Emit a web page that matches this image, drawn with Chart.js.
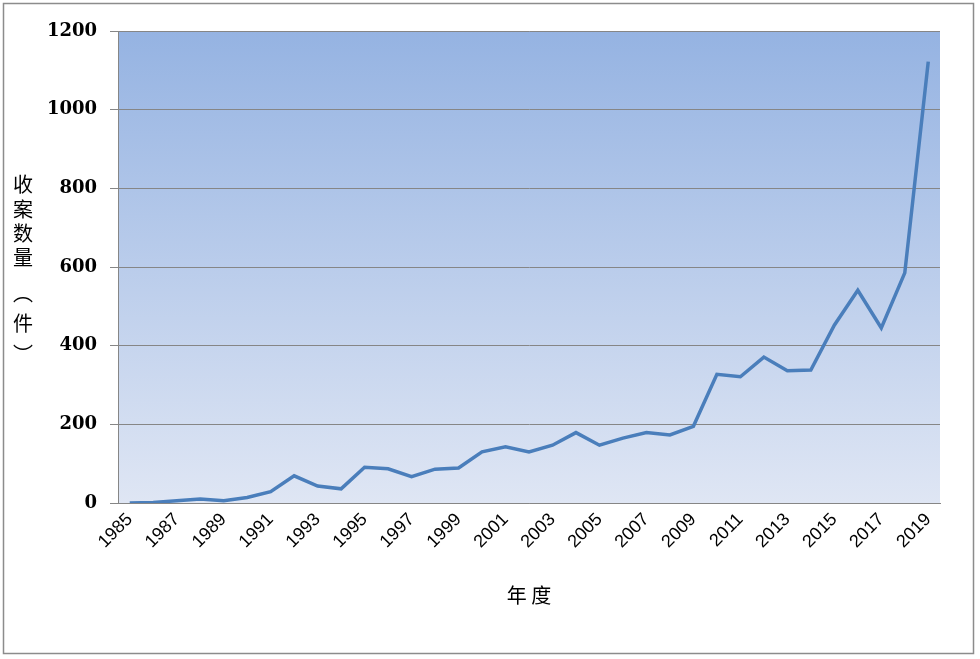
<!DOCTYPE html>
<html>
<head>
<meta charset="utf-8">
<title>收案数量</title>
<script src="https://cdn.jsdelivr.net/npm/chart.js@4/dist/chart.umd.min.js"></script>
<style>
  html, body { margin: 0; padding: 0; background: #fff; }
  #wrap { position: relative; width: 980px; height: 659px; }
</style>
</head>
<body>
<div id="wrap"><canvas id="cases" width="980" height="659"></canvas></div>
<script>
'use strict';

var years = ["1985", "1986", "1987", "1988", "1989", "1990", "1991", "1992", "1993", "1994",
             "1995", "1996", "1997", "1998", "1999", "2000", "2001", "2002", "2003", "2004",
             "2005", "2006", "2007", "2008", "2009", "2010", "2011", "2012", "2013", "2014",
             "2015", "2016", "2017", "2018", "2019"];
var caseCounts = [0, 1, 6, 10, 6, 14, 29, 69, 43, 36,
                  91, 87, 67, 86, 89, 130, 143, 130, 147, 179,
                  147, 165, 179, 173, 195, 327, 321, 371, 336, 338,
                  452, 541, 445, 585, 1122];
var yTicks = [0, 200, 400, 600, 800, 1000, 1200];
var yTitleChars = ["收", "案", "数", "量", "︵", "件", "︶"];
var xTitle = "年 度";

var ctxCases = document.getElementById('cases').getContext('2d');

// gradient fill behind the plot, frame and stacked y title
var decorations = {
    id: 'decorations',
    beforeDraw: function(chart) {
        var ctx = chart.ctx;
        var a = chart.chartArea;
        ctx.save();
        ctx.fillStyle = '#ffffff';
        ctx.fillRect(0, 0, chart.width, chart.height);
        var grad = ctx.createLinearGradient(0, a.top, 0, a.bottom);
        grad.addColorStop(0, '#95b3e2');
        grad.addColorStop(1, '#dfe6f4');
        ctx.fillStyle = grad;
        ctx.fillRect(a.left, a.top, a.right - a.left, a.bottom - a.top);
        ctx.restore();
    },
    afterDraw: function(chart) {
        var ctx = chart.ctx;
        ctx.save();
        ctx.strokeStyle = '#8c8c8c';
        ctx.lineWidth = 1.5;
        ctx.strokeRect(3.5, 3.5, 970, 650);

        // stacked vertical title, ink of each character centred on its row
        ctx.fillStyle = '#000';
        ctx.textAlign = 'center';
        ctx.textBaseline = 'alphabetic';
        ctx.font = '20px "Noto Sans CJK SC"';
        var rowY = [184, 208.5, 233, 257, 300, 323, 347];
        yTitleChars.forEach(function(ch, i) {
            var m = ctx.measureText(ch);
            var shift = (m.actualBoundingBoxDescent - m.actualBoundingBoxAscent) / 2;
            ctx.fillText(ch, 23, rowY[i] - shift);
        });
        ctx.restore();
    }
};

var casesChart = new Chart(ctxCases, {
    type: 'line',
    data: {
        labels: years,
        datasets: [
            {
                label: '收案数量',
                data: caseCounts,
                borderColor: '#4a7ebb',
                backgroundColor: '#4a7ebb',
                borderWidth: 3.5,
                pointRadius: 0,
                tension: 0,
                fill: false
            }
        ]
    },
    options: {
        responsive: false,
        animation: false,
        layout: { padding: { left: 0, top: 31, right: 40, bottom: 0 } },
        plugins: {
            legend: { display: false },
            tooltip: { enabled: false }
        },
        scales: {
            x: {
                offset: true,
                grid: { display: false, drawTicks: false },
                border: { display: true, color: '#868686' },
                ticks: {
                    autoSkip: false,
                    minRotation: 45,
                    maxRotation: 45,
                    padding: 6,
                    color: '#000',
                    font: { family: 'Liberation Sans', size: 18 },
                    callback: function(value, index) {
                        return index % 2 === 0 ? years[index] : '';
                    }
                },
                title: {
                    display: true,
                    text: xTitle,
                    color: '#000',
                    font: { family: 'Noto Sans CJK SC', size: 20 },
                    padding: { top: 4, bottom: 52 }
                },
                afterFit: function(scale) { scale.height = 156; }
            },
            y: {
                min: yTicks[0],
                max: yTicks[yTicks.length - 1],
                afterBuildTicks: function(scale) {
                    scale.ticks = yTicks.map(function(v) { return { value: v }; });
                },
                grid: { color: '#868686', lineWidth: 1, tickLength: 8 },
                border: { color: '#868686' },
                ticks: {
                    padding: 13,
                    color: '#000',
                    font: { family: 'DejaVu Serif', size: 18, weight: 'bold' },
                    callback: function(value) { return String(value); }
                },
                afterFit: function(scale) { scale.width = 118; }
            }
        }
    },
    plugins: [decorations]
});
</script>
</body>
</html>
